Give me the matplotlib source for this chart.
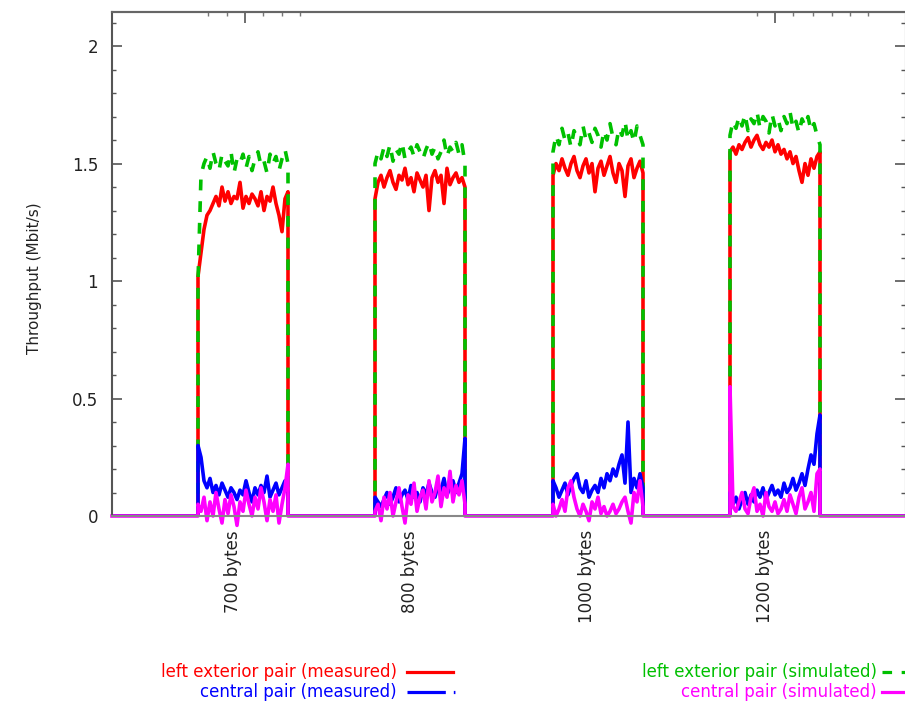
import numpy as np
import matplotlib
matplotlib.use("Agg")
import matplotlib.pyplot as plt
from matplotlib.lines import Line2D

# time axis (s); four bursts, one per packet size
block_starts = [86, 263, 441, 618]
step = 3
x_end = 793
tick_pos = [121, 298, 475, 653]
tick_labels = ["700 bytes", "800 bytes", "1000 bytes", "1200 bytes"]

# left exterior pair (measured)
red_700 = [1.02, 1.12, 1.22, 1.28, 1.30, 1.33, 1.36, 1.32, 1.40, 1.34, 1.38, 1.33, 1.36, 1.35, 1.42, 1.31,
           1.36, 1.33, 1.37, 1.35, 1.32, 1.38, 1.30, 1.36, 1.34, 1.40, 1.33, 1.28, 1.21, 1.35, 1.38]
red_800 = [1.35, 1.42, 1.45, 1.40, 1.44, 1.47, 1.42, 1.39, 1.45, 1.43, 1.48, 1.41, 1.44, 1.38, 1.46, 1.43,
           1.40, 1.45, 1.30, 1.44, 1.47, 1.42, 1.45, 1.33, 1.48, 1.41, 1.44, 1.46, 1.42, 1.44, 1.40]
red_1000 = [1.45, 1.50, 1.47, 1.52, 1.48, 1.45, 1.50, 1.53, 1.47, 1.44, 1.49, 1.52, 1.46, 1.50, 1.38, 1.48,
            1.51, 1.45, 1.49, 1.53, 1.46, 1.42, 1.50, 1.47, 1.36, 1.49, 1.52, 1.44, 1.48, 1.51, 1.46]
red_1200 = [1.55, 1.57, 1.54, 1.58, 1.56, 1.59, 1.61, 1.57, 1.60, 1.62, 1.58, 1.56, 1.59, 1.57, 1.60, 1.55,
            1.58, 1.54, 1.56, 1.52, 1.55, 1.50, 1.53, 1.47, 1.42, 1.50, 1.45, 1.52, 1.48, 1.53, 1.55]

# left exterior pair (simulated)
green_700 = [1.00, 1.45, 1.50, 1.53, 1.48, 1.55, 1.50, 1.47, 1.54, 1.51, 1.49, 1.55, 1.46, 1.52, 1.50, 1.54,
             1.48, 1.53, 1.47, 1.52, 1.55, 1.49, 1.51, 1.46, 1.54, 1.50, 1.53, 1.47, 1.52, 1.56, 1.50]
green_800 = [1.50, 1.55, 1.52, 1.57, 1.53, 1.58, 1.51, 1.56, 1.54, 1.59, 1.52, 1.55, 1.57, 1.53, 1.58, 1.55,
             1.52, 1.56, 1.59, 1.54, 1.57, 1.52, 1.55, 1.60, 1.53, 1.57, 1.55, 1.59, 1.54, 1.58, 1.50]
green_1000 = [1.55, 1.62, 1.58, 1.65, 1.60, 1.63, 1.57, 1.64, 1.61, 1.58, 1.66, 1.60, 1.63, 1.59, 1.65, 1.62,
              1.57, 1.64, 1.60, 1.67, 1.61, 1.58, 1.65, 1.62, 1.68, 1.60, 1.64, 1.59, 1.66, 1.62, 1.58]
green_1200 = [1.62, 1.68, 1.65, 1.70, 1.66, 1.71, 1.64, 1.69, 1.67, 1.72, 1.65, 1.70, 1.68, 1.63, 1.71, 1.66,
              1.69, 1.64, 1.70, 1.67, 1.72, 1.65, 1.68, 1.63, 1.69, 1.66, 1.70, 1.64, 1.67, 1.62, 1.58]

# central pair (measured)
blue_700 = [0.30, 0.25, 0.15, 0.12, 0.16, 0.10, 0.13, 0.09, 0.14, 0.11, 0.08, 0.12, 0.10, 0.07, 0.11, 0.09,
            0.15, 0.10, 0.06, 0.12, 0.09, 0.13, 0.10, 0.17, 0.08, 0.11, 0.14, 0.09, 0.12, 0.15, 0.10]
blue_800 = [0.08, 0.06, 0.04, 0.07, 0.10, 0.05, 0.08, 0.12, 0.06, 0.09, 0.11, 0.07, 0.13, 0.08, 0.10, 0.06,
            0.12, 0.09, 0.14, 0.10, 0.08, 0.13, 0.11, 0.16, 0.09, 0.12, 0.15, 0.10, 0.14, 0.18, 0.33]
blue_1000 = [0.15, 0.12, 0.08, 0.11, 0.14, 0.09, 0.13, 0.16, 0.18, 0.12, 0.10, 0.15, 0.08, 0.11, 0.13, 0.10,
             0.16, 0.12, 0.18, 0.15, 0.20, 0.17, 0.22, 0.26, 0.14, 0.40, 0.10, 0.16, 0.12, 0.18, 0.12]
blue_1200 = [0.10, 0.05, 0.08, 0.03, 0.07, 0.10, 0.05, 0.09, 0.06, 0.11, 0.08, 0.12, 0.07, 0.10, 0.13, 0.09,
             0.11, 0.08, 0.14, 0.10, 0.12, 0.16, 0.11, 0.14, 0.18, 0.13, 0.20, 0.26, 0.22, 0.35, 0.43]

# central pair (simulated)
mag_700 = [0.05, 0.02, 0.08, -0.02, 0.06, 0.00, 0.10, 0.03, -0.03, 0.07, 0.01, 0.09, 0.04, -0.04, 0.06, 0.02,
           0.11, 0.05, 0.00, 0.08, 0.03, 0.12, 0.06, -0.02, 0.07, 0.02, 0.09, -0.03, 0.05, 0.12, 0.22]
mag_800 = [0.02, 0.05, -0.02, 0.08, 0.03, 0.10, 0.00, 0.06, 0.12, 0.04, -0.03, 0.09, 0.05, 0.14, 0.02, 0.08,
           0.11, 0.03, 0.15, 0.06, 0.10, 0.17, 0.04, 0.12, 0.08, 0.19, 0.06, 0.13, 0.09, 0.15, 0.05]
mag_1000 = [0.05, 0.00, 0.03, 0.07, 0.02, 0.12, 0.15, 0.08, 0.03, 0.00, 0.05, 0.02, -0.02, 0.06, 0.03, 0.08,
            0.01, 0.04, 0.00, 0.02, 0.05, 0.01, 0.03, 0.06, 0.08, 0.02, -0.03, 0.10, 0.06, 0.15, 0.04]
mag_1200 = [0.55, 0.04, 0.02, 0.06, 0.10, 0.03, 0.01, 0.08, 0.12, 0.02, 0.05, 0.00, 0.10, 0.04, 0.02, 0.06,
            0.01, 0.03, 0.07, 0.02, 0.09, 0.05, 0.01, 0.08, 0.12, 0.03, 0.06, 0.10, 0.02, 0.18, 0.20]


def build(blocks):
    xs, ys = [0], [0]
    for start, vals in zip(block_starts, blocks):
        t = start + step * np.arange(len(vals))
        xs += [start] + list(t) + [t[-1]]
        ys += [0] + list(vals) + [0]
    xs.append(x_end)
    ys.append(0)
    return xs, ys


# label, data, colour, style in plot, style in key
series = [
    ("left exterior pair (measured)", [red_700, red_800, red_1000, red_1200], "#ff0000", "-", "-"),
    ("left exterior pair (simulated)", [green_700, green_800, green_1000, green_1200], "#00c000",
     (0, (3, 3)), (0, (3, 3))),
    ("central pair (measured)", [blue_700, blue_800, blue_1000, blue_1200], "#0000ff", "-",
     (0, (12, 2.5, 0.5, 10))),
    ("central pair (simulated)", [mag_700, mag_800, mag_1000, mag_1200], "#ff00ff", "-", "-"),
]

fig = plt.figure(figsize=(9.05, 7.14), dpi=100)
ax = fig.add_axes([112 / 905, 1 - 516 / 714, 793 / 905, 504 / 714])

for label, blocks, color, ls, _ in series:
    xs, ys = build(blocks)
    ax.plot(xs, ys, color=color, linestyle=ls, linewidth=2.6, label=label,
            clip_on=(color != "#ff00ff"))

ax.set_xlim(0, x_end)
ax.set_ylim(0, 2.145)

ax.set_yticks([0, 0.5, 1, 1.5, 2])
ax.set_yticklabels(["0", "0.5", "1", "1.5", "2"])
ax.set_yticks(np.arange(0, 2.15, 0.1), minor=True)
ax.tick_params(axis="y", which="both", direction="in", left=True, right=True,
               colors="#555555", labelcolor="#222222", labelsize=12, pad=10)
ax.tick_params(axis="y", which="major", length=7, width=1.2)
ax.tick_params(axis="y", which="minor", length=3, width=1)

ax.set_xticks(tick_pos)
ax.set_xticklabels(tick_labels, rotation=90, fontsize=12, color="#222222")
ax.tick_params(axis="x", which="both", length=0, pad=10)
ax.tick_params(axis="x", which="minor", bottom=False)

top = ax.secondary_xaxis("top")
top.set_xticks([133, 663])
top.set_xticks([96, 115, 151, 170, 188, 645, 681, 701, 720, 738, 756], minor=True)
top.tick_params(which="major", direction="in", length=8, width=1.2, colors="#555555", labeltop=False)
top.tick_params(which="minor", direction="in", length=3, width=1, colors="#777777")
top.spines["top"].set_color("#666666")
top.spines["top"].set_linewidth(1.5)

ax.spines["left"].set_color("#555555")
ax.spines["left"].set_linewidth(1.5)
ax.spines["top"].set_color("#666666")
ax.spines["top"].set_linewidth(1.5)
ax.spines["right"].set_color("#666666")
ax.spines["bottom"].set_color("#888888")
ax.spines["bottom"].set_linewidth(1.5)

fig.text(35 / 905, 1 - 278 / 714, "Throughput (Mbit/s)", rotation=90,
         ha="center", va="center", fontsize=11, color="#222222")

# legend, gnuplot style: coloured text right-aligned, sample after it
legend_rows = [
    (series[0], 397, 407, 453, 672),
    (series[2], 397, 407, 458, 692),
    (series[1], 877, 882, 930, 672),
    (series[3], 877, 882, 930, 692),
]
for (label, _, color, _, key_ls), x_text, x0, x1, y in legend_rows:
    fy = 1 - y / 714
    fig.text(x_text / 905, fy, label, ha="right", va="center", fontsize=12, color=color)
    fig.add_artist(Line2D([x0 / 905, x1 / 905], [fy, fy], color=color, linestyle=key_ls,
                          linewidth=2.3, transform=fig.transFigure))

fig.savefig("out.png", dpi=100)
